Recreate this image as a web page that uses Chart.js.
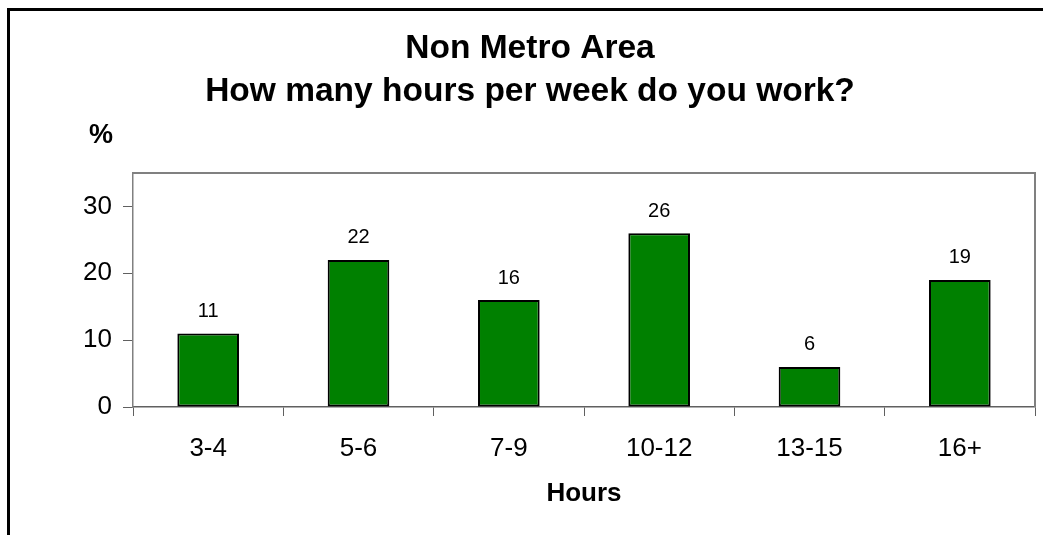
<!DOCTYPE html>
<html>
<head>
<meta charset="utf-8">
<script src="https://cdn.jsdelivr.net/npm/chart.js@4"></script>
<style>
  html, body { margin: 0; padding: 0; background: #fff; }
  #wrap { width: 1043px; height: 535px; }
</style>
</head>
<body>
<div id="wrap"><canvas id="c" width="1043" height="535"></canvas></div>
<script>
const categories = ['3-4', '5-6', '7-9', '10-12', '13-15', '16+'];
const values = [11, 22, 16, 26, 6, 19];
const yTicks = [0, 10, 20, 30];
const titleLines = ['Non Metro Area', 'How many hours per week do you work?'];
const yAxisLabel = '%';
const xAxisLabel = 'Hours';

const FONT = 'Arial, "Liberation Sans", sans-serif';

const decor = {
  id: 'decor',
  beforeDraw(chart) {
    const ctx = chart.ctx;
    ctx.save();
    ctx.fillStyle = '#fff';
    ctx.fillRect(0, 0, chart.width, chart.height);
    // outer frame (cropped on right and bottom)
    ctx.strokeStyle = '#000';
    ctx.lineWidth = 3;
    ctx.strokeRect(8.5, 9.5, 1200, 700);
    ctx.restore();
  },
  beforeDatasetsDraw(chart) {
    const ctx = chart.ctx;
    const a = chart.chartArea;
    ctx.save();
    ctx.strokeStyle = '#808080';
    ctx.lineWidth = 2;
    ctx.beginPath();
    ctx.moveTo(a.left, a.top);
    ctx.lineTo(a.right, a.top);
    ctx.lineTo(a.right, a.bottom);
    ctx.stroke();
    ctx.restore();
  },
  afterDatasetsDraw(chart) {
    const ctx = chart.ctx;
    const meta = chart.getDatasetMeta(0);
    ctx.save();
    ctx.fillStyle = '#000';
    ctx.font = '20px ' + FONT;
    ctx.textAlign = 'center';
    ctx.textBaseline = 'middle';
    meta.data.forEach((bar, i) => {
      ctx.fillText(String(values[i]), bar.x, bar.y - 22);
    });
    ctx.restore();
  },
  afterDraw(chart) {
    const ctx = chart.ctx;
    ctx.save();
    ctx.fillStyle = '#000';
    ctx.textAlign = 'center';
    ctx.textBaseline = 'alphabetic';
    ctx.font = 'bold 33.5px ' + FONT;
    ctx.fillText(titleLines[0], 530, 58);
    ctx.fillText(titleLines[1], 530, 101);
    ctx.font = 'bold 27px ' + FONT;
    ctx.fillText(yAxisLabel, 101, 143);
    ctx.restore();
  }
};

new Chart(document.getElementById('c'), {
  type: 'bar',
  data: {
    labels: categories,
    datasets: [{
      data: values,
      backgroundColor: '#008000',
      borderColor: '#000',
      borderWidth: 2,
      borderSkipped: false,
      barPercentage: 0.41,
      categoryPercentage: 1.0
    }]
  },
  options: {
    responsive: false,
    animation: false,
    devicePixelRatio: 1,
    layout: { padding: { top: 173, right: 8, left: 0, bottom: 0 } },
    plugins: {
      legend: { display: false },
      title: { display: false },
      tooltip: { enabled: false }
    },
    scales: {
      x: {
        offset: true,
        afterFit(s) { s.height = 128; },
        grid: { offset: true, drawOnChartArea: false, drawTicks: true, tickLength: 9, color: '#606060', lineWidth: 1 },
        border: { display: true, color: '#606060', width: 1.5 },
        ticks: { color: '#000', font: { family: FONT, size: 26 }, padding: 17, maxRotation: 0 },
        title: { display: true, text: xAxisLabel, color: '#000', font: { family: FONT, size: 26, weight: 'bold' }, padding: { top: 0, bottom: 26 } }
      },
      y: {
        min: 0,
        max: 35,
        afterFit(s) { s.width = 133; },
        afterBuildTicks(s) { s.ticks = yTicks.map(v => ({ value: v })); },
        grid: { drawOnChartArea: false, drawTicks: true, tickLength: 10, color: '#606060', lineWidth: 1 },
        border: { display: true, color: '#808080', width: 1.5 },
        ticks: { color: '#000', font: { family: FONT, size: 26 }, padding: 11 }
      }
    }
  },
  plugins: [decor]
});
</script>
</body>
</html>
